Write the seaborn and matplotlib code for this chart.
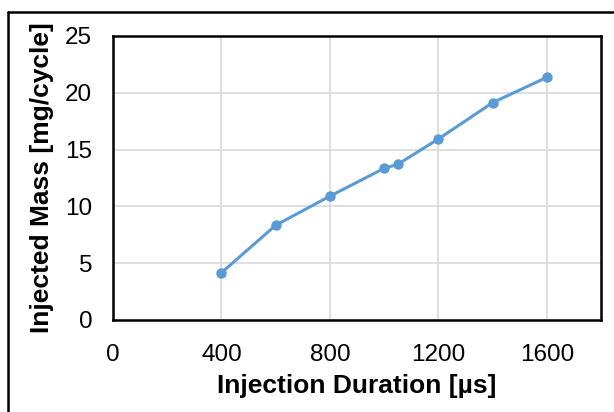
import matplotlib
matplotlib.use("Agg")
import matplotlib.pyplot as plt
import seaborn as sns
import pandas as pd
from matplotlib.lines import Line2D

duration = [400, 600, 800, 1000, 1050, 1200, 1400, 1600]
mass = [4.16, 8.34, 10.9, 13.35, 13.7, 15.93, 19.13, 21.36]
x_ticks = [0, 400, 800, 1200, 1600]
y_ticks = [0, 5, 10, 15, 20, 25]

sns.set_theme(style="white")
plt.rcParams['font.family'] = ['Liberation Sans', 'DejaVu Sans']
plt.rcParams['text.color'] = 'black'
plt.rcParams['axes.labelcolor'] = 'black'

df = pd.DataFrame({"duration": duration, "mass": mass})

fig = plt.figure(figsize=(6.14, 4.12), dpi=100)
ax = fig.add_axes([113/614, 1-320/412, (601-113)/614, (320-36)/412])

sns.lineplot(data=df, x="duration", y="mass", ax=ax, color="#5B9BD5",
             marker="o", markersize=7.5, markeredgewidth=0, linewidth=2.2)

ax.set_xlim(0, 1800)
ax.set_ylim(0, 25)
ax.set_xticks(x_ticks)
ax.set_yticks(y_ticks)
ax.tick_params(axis='both', length=0, labelsize=17.5, colors='black')
ax.tick_params(axis='x', pad=17)
ax.tick_params(axis='y', pad=15)
ax.grid(True, color="#D9D9D9", linewidth=1.2)
ax.set_axisbelow(True)
for s in ax.spines.values():
    s.set_visible(True)
    s.set_color("black")
    s.set_linewidth(1.8)

ax.set_xlabel("Injection Duration [µs]", fontsize=19, fontweight='bold', labelpad=6, color='black')
ax.set_ylabel("Injected Mass [mg/cycle]", fontsize=19, fontweight='bold', labelpad=8, color='black')

# figure border (partially cropped frame)
fig.add_artist(Line2D([8/614, 8/614], [0, 1-12/412], transform=fig.transFigure, color='black', linewidth=1.8))
fig.add_artist(Line2D([8/614, 1], [1-12/412, 1-12/412], transform=fig.transFigure, color='black', linewidth=1.8))

fig.savefig("out.png", dpi=100)
